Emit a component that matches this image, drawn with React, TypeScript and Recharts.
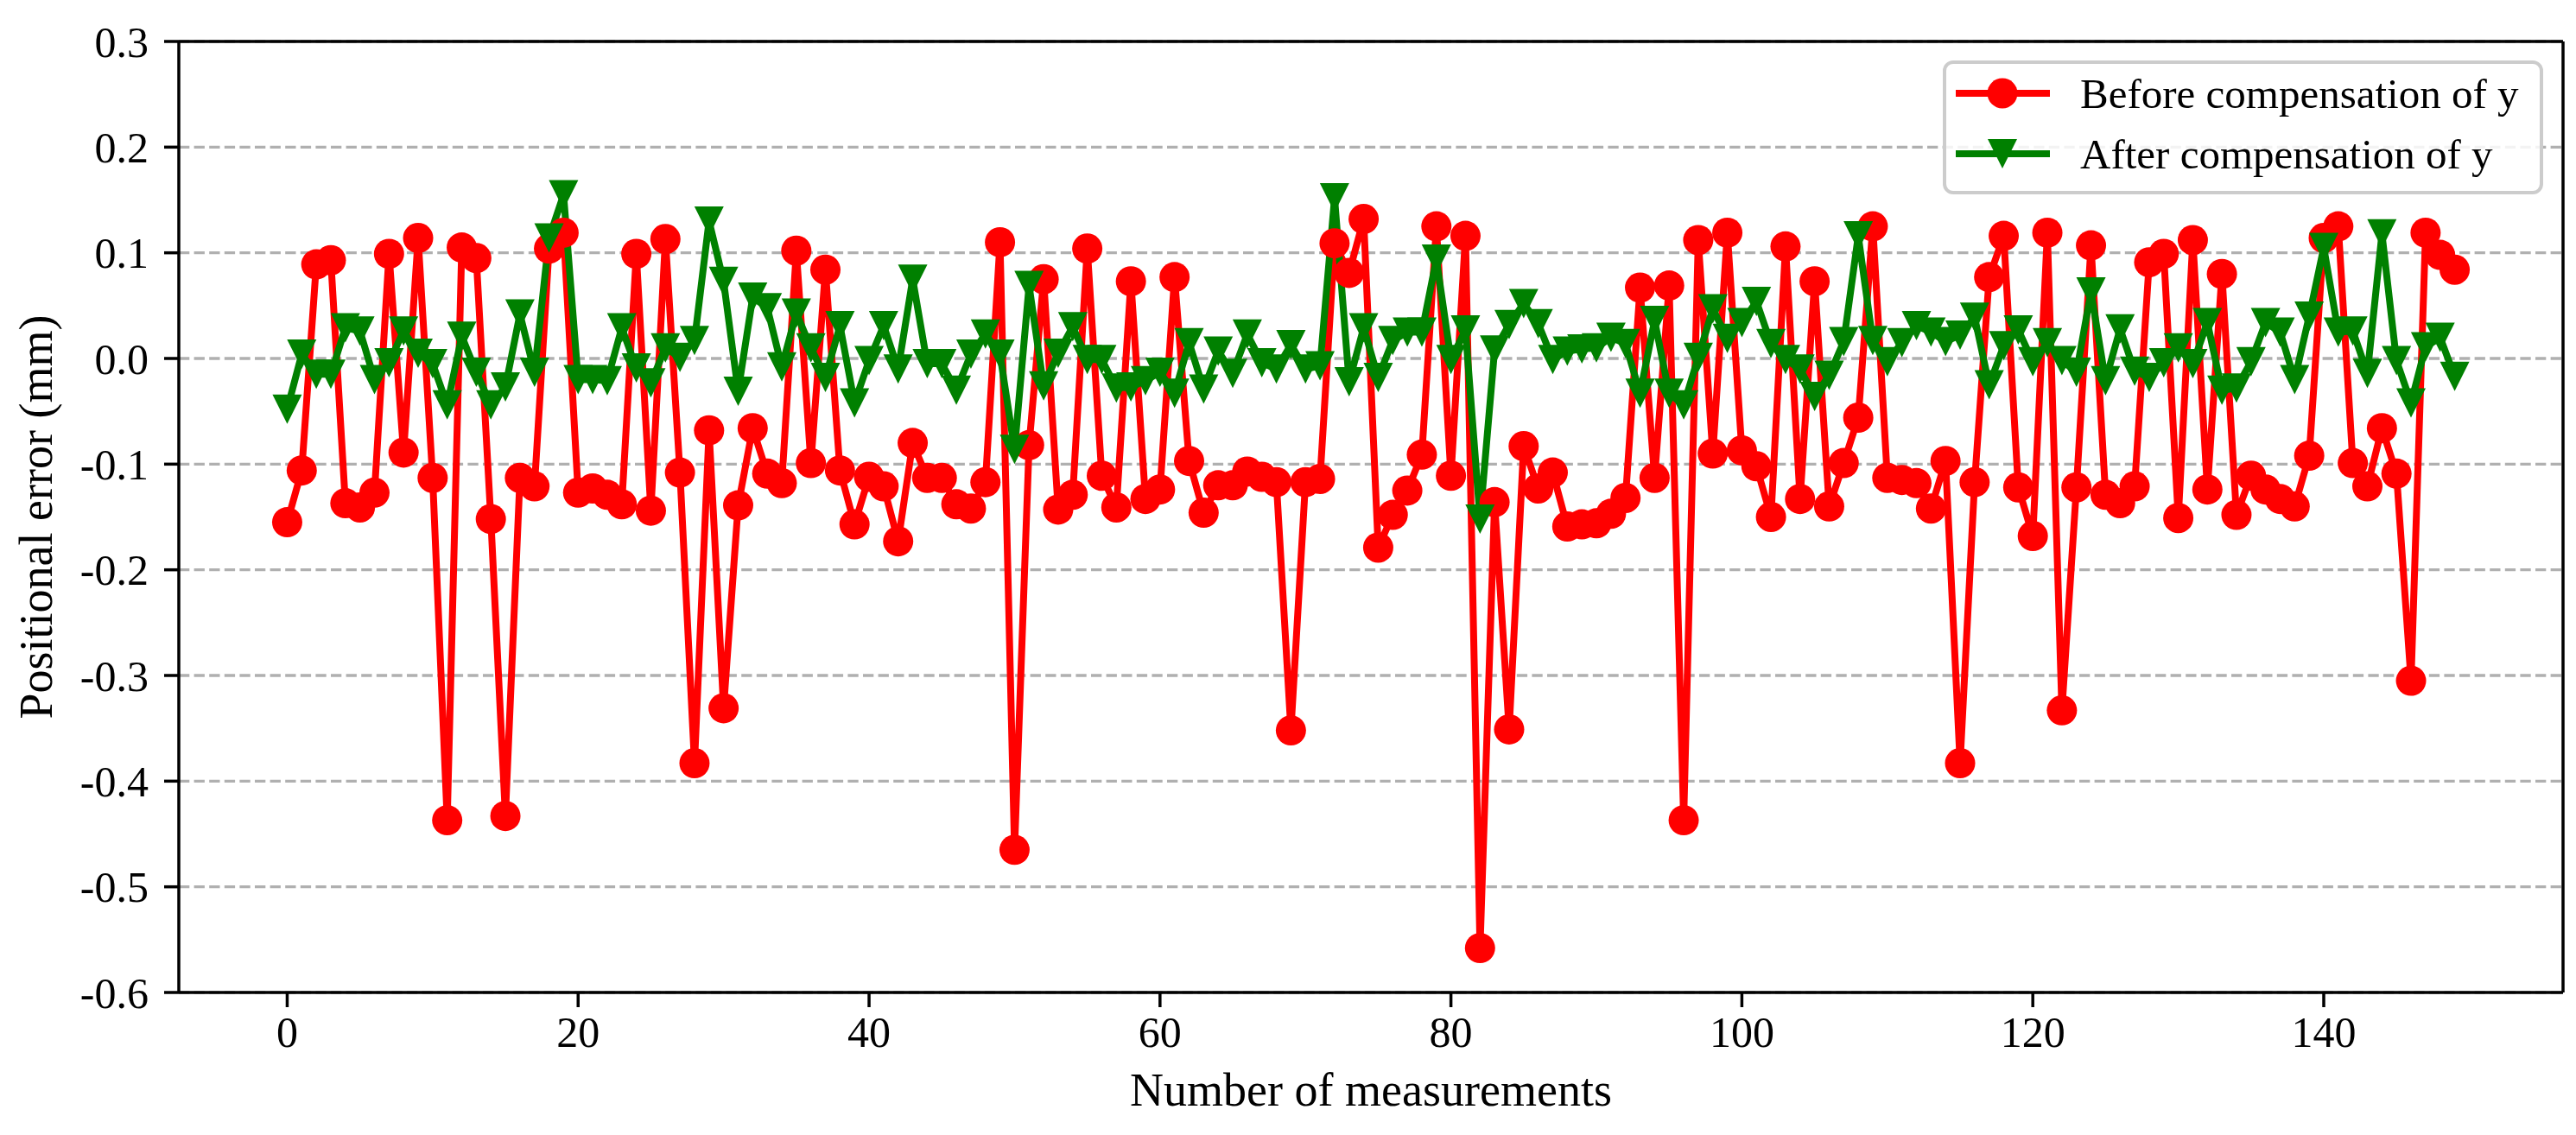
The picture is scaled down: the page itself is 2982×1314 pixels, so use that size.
import React from 'react';
import { LineChart, Line, XAxis, YAxis, CartesianGrid, Legend, ReferenceLine } from 'recharts';

// Positional error before compensation (mm), measurements 0..149
const beforeCompensation = [
  -0.155, -0.106, 0.089, 0.093, -0.137, -0.141, -0.127, 0.099, -0.089, 0.114,
  -0.113, -0.437, 0.105, 0.095, -0.152, -0.433, -0.113, -0.121, 0.104, 0.119,
  -0.127, -0.123, -0.129, -0.138, 0.099, -0.144, 0.113, -0.108, -0.383, -0.068,
  -0.331, -0.139, -0.066, -0.109, -0.118, 0.102, -0.099, 0.084, -0.106, -0.157,
  -0.112, -0.121, -0.173, -0.080, -0.113, -0.113, -0.138, -0.142, -0.117, 0.110,
  -0.465, -0.082, 0.075, -0.143, -0.129, 0.104, -0.111, -0.141, 0.073, -0.133,
  -0.124, 0.077, -0.097, -0.146, -0.120, -0.120, -0.107, -0.112, -0.117, -0.352,
  -0.117, -0.114, 0.109, 0.081, 0.132, -0.179, -0.148, -0.125, -0.091, 0.125,
  -0.111, 0.116, -0.558, -0.136, -0.351, -0.083, -0.123, -0.108, -0.159, -0.157,
  -0.156, -0.147, -0.132, 0.067, -0.113, 0.069, -0.437, 0.112, -0.090, 0.119,
  -0.087, -0.102, -0.150, 0.106, -0.133, 0.073, -0.140, -0.099, -0.056, 0.125,
  -0.113, -0.115, -0.118, -0.142, -0.097, -0.383, -0.117, 0.077, 0.116, -0.122,
  -0.168, 0.119, -0.333, -0.122, 0.107, -0.129, -0.137, -0.121, 0.091, 0.099,
  -0.151, 0.112, -0.124, 0.080, -0.148, -0.111, -0.124, -0.133, -0.140, -0.092,
  0.114, 0.125, -0.099, -0.121, -0.066, -0.109, -0.305, 0.119, 0.098, 0.084,
];

// Positional error after compensation (mm), measurements 0..149
const afterCompensation = [
  -0.048, 0.004, -0.015, -0.015, 0.029, 0.026, -0.020, -0.004, 0.026, 0.005,
  -0.005, -0.044, 0.021, -0.013, -0.044, -0.027, 0.042, -0.013, 0.114, 0.155,
  -0.020, -0.020, -0.021, 0.029, -0.009, -0.023, 0.010, 0.001, 0.017, 0.130,
  0.073, -0.031, 0.058, 0.048, -0.008, 0.043, 0.010, -0.018, 0.031, -0.042,
  -0.002, 0.031, -0.010, 0.075, -0.005, -0.005, -0.030, 0.004, 0.023, 0.004,
  -0.086, 0.069, -0.026, 0.005, 0.030, -0.001, -0.001, -0.028, -0.027, -0.021,
  -0.013, -0.033, 0.015, -0.029, 0.007, -0.014, 0.023, -0.004, -0.010, 0.013,
  -0.010, -0.007, 0.152, -0.022, 0.029, -0.018, 0.017, 0.025, 0.025, 0.094,
  -0.001, 0.027, -0.152, 0.008, 0.032, 0.052, 0.033, -0.001, 0.007, 0.009,
  0.010, 0.020, 0.014, -0.033, 0.036, -0.033, -0.044, 0.001, 0.047, 0.019,
  0.034, 0.054, 0.014, -0.001, -0.010, -0.036, -0.016, 0.016, 0.116, 0.017,
  -0.003, 0.015, 0.031, 0.025, 0.016, 0.022, 0.039, -0.025, 0.012, 0.027,
  -0.003, 0.015, -0.002, -0.013, 0.063, -0.021, 0.028, -0.012, -0.018, -0.004,
  0.010, -0.005, 0.034, -0.030, -0.028, -0.003, 0.034, 0.025, -0.020, 0.040,
  0.105, 0.025, 0.026, -0.014, 0.118, -0.002, -0.042, 0.011, 0.020, -0.017,
];

const xTicks = [0, 20, 40, 60, 80, 100, 120, 140];
const yTicks = [-0.6, -0.5, -0.4, -0.3, -0.2, -0.1, 0, 0.1, 0.2, 0.3];
const xDomain = [-7.45, 156.45];
const yDomain = [-0.6, 0.3];
const seriesNames = ['Before compensation of y', 'After compensation of y'];
const axisTitles = ['Number of measurements', 'Positional error (mm)'];

const data = beforeCompensation.map((v, i) => ({
  n: i,
  before: v,
  after: afterCompensation[i],
}));

const FONT = '"Liberation Serif", "Times New Roman", Times, serif';
const RED = '#ff0000';
const GREEN = '#008000';

const TriangleDot = (props: any) => {
  const { cx, cy, index } = props;
  if (cx == null || cy == null) return <g key={`t-${index}`} />;
  const h = 17;
  return (
    <path
      key={`t-${index}`}
      d={`M${cx - h},${cy - h}L${cx + h},${cy - h}L${cx},${cy + h}Z`}
      fill={GREEN}
    />
  );
};

const LegendBox = () => (
  <svg width={695} height={155} style={{ display: 'block' }}>
    <rect x={2} y={2} width={691} height={151} rx={10} ry={10} fill="rgba(255,255,255,0.85)" stroke="#cccccc" strokeWidth={4} />
    <line x1={15} x2={124} y1={38} y2={38} stroke={RED} strokeWidth={8} />
    <circle cx={69} cy={38} r={17.5} fill={RED} />
    <text x={159} y={55} fontSize={49} fontFamily={FONT} fill="#000">{seriesNames[0]}</text>
    <line x1={15} x2={124} y1={108} y2={108} stroke={GREEN} strokeWidth={8} />
    <path d={`M${69 - 17},${108 - 17}L${69 + 17},${108 - 17}L69,${108 + 17}Z`} fill={GREEN} />
    <text x={159} y={125} fontSize={49} fontFamily={FONT} fill="#000">{seriesNames[1]}</text>
  </svg>
);

const XLabel = (props: any) => {
  const vb = props.viewBox || { x: 207, y: 1149, width: 2760, height: 165 };
  return (
    <text x={vb.x + vb.width / 2} y={vb.y + 131} textAnchor="middle" fontSize={54} fontFamily={FONT} fill="#000">
      {axisTitles[0]}
    </text>
  );
};

const YLabel = (props: any) => {
  const vb = props.viewBox || { x: 0, y: 48, width: 207, height: 1101 };
  const cx = vb.x + 60;
  const cy = vb.y + vb.height / 2;
  return (
    <text x={cx} y={cy} textAnchor="middle" transform={`rotate(-90, ${cx}, ${cy})`} fontSize={54} fontFamily={FONT} fill="#000">
      {axisTitles[1]}
    </text>
  );
};

export default function App() {
  return (
    <div style={{ position: 'absolute', left: 0, top: 0, width: 2982, height: 1314, background: '#fff' }}>
      <LineChart width={2982} height={1314} data={data} margin={{ top: 48, right: 15, bottom: 0, left: 0 }}>
        <CartesianGrid vertical={false} stroke="#b0b0b0" strokeWidth={3.3} strokeDasharray="12.3 5.3" />
        <XAxis
          dataKey="n"
          type="number"
          domain={xDomain}
          allowDataOverflow
          ticks={xTicks}
          interval={0}
          height={165}
          tickSize={17}
          tickMargin={10}
          axisLine={{ stroke: '#000', strokeWidth: 3.5 }}
          tickLine={{ stroke: '#000', strokeWidth: 3.5 }}
          tick={{ fontSize: 50, fill: '#000', fontFamily: FONT }}
          label={XLabel}
        />
        <YAxis
          type="number"
          domain={yDomain}
          allowDataOverflow
          ticks={yTicks}
          interval={0}
          width={207}
          tickSize={17}
          tickMargin={18}
          tickFormatter={(v: number) => v.toFixed(1)}
          axisLine={{ stroke: '#000', strokeWidth: 3.5 }}
          tickLine={{ stroke: '#000', strokeWidth: 3.5 }}
          tick={{ fontSize: 50, fill: '#000', fontFamily: FONT }}
          label={YLabel}
        />
        <ReferenceLine y={0.3} stroke="#000" strokeWidth={3.5} />
        <ReferenceLine x={156.45} stroke="#000" strokeWidth={3.5} />
        <Line
          type="linear"
          dataKey="before"
          name={seriesNames[0]}
          stroke={RED}
          strokeWidth={8}
          strokeLinejoin="round"
          dot={{ r: 17.5, fill: RED, stroke: RED, strokeWidth: 0 }}
          activeDot={false}
          isAnimationActive={false}
        />
        <Line
          type="linear"
          dataKey="after"
          name={seriesNames[1]}
          stroke={GREEN}
          strokeWidth={8}
          strokeLinejoin="round"
          dot={TriangleDot}
          activeDot={false}
          isAnimationActive={false}
        />
        <Legend
          layout="vertical"
          align="center"
          verticalAlign="middle"
          content={LegendBox}
          wrapperStyle={{ position: 'absolute', left: 2249, top: 70, width: 695, height: 155 }}
        />
      </LineChart>
    </div>
  );
}
